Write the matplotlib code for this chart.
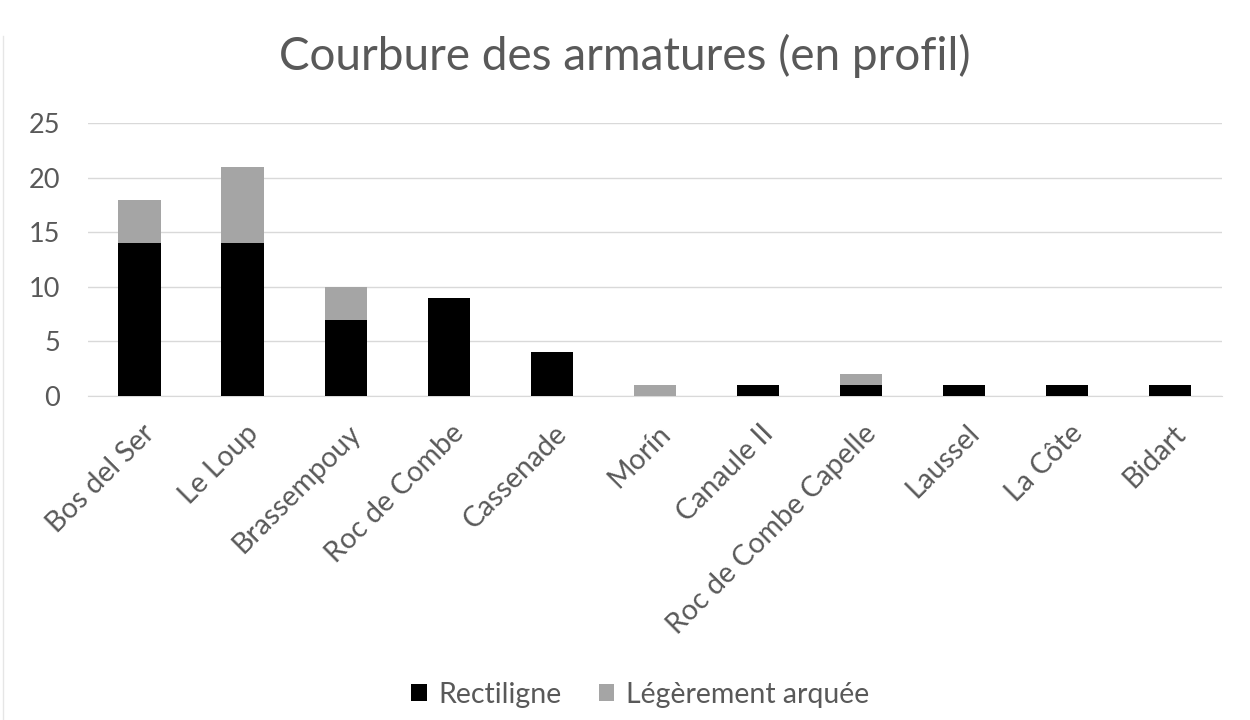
import matplotlib.pyplot as plt
import matplotlib.transforms as mtransforms
import numpy as np

plt.rcParams['font.family'] = ['Lato', 'DejaVu Sans']

sites = ['Bos del Ser', 'Le Loup', 'Brassempouy', 'Roc de Combe', 'Cassenade',
         'Morín', 'Canaule II', 'Roc de Combe Capelle', 'Laussel', 'La Côte', 'Bidart']
rectiligne = [14, 14, 7, 9, 4, 0, 1, 1, 1, 1, 1]
arquee = [4, 7, 3, 0, 0, 1, 0, 1, 0, 0, 0]
yticks = [0, 5, 10, 15, 20, 25]

txt = '#595959'
fig = plt.figure(figsize=(12.5, 7.2), dpi=100)
ax = fig.add_axes([0.0704, 0.45, 0.907, 0.379])

x = np.arange(len(sites))
ax.bar(x, rectiligne, width=0.41, color='#000000', label='Rectiligne', zorder=3)
ax.bar(x, arquee, width=0.41, bottom=rectiligne, color='#a5a5a5',
       label='Légèrement arquée', zorder=3)

ax.set_xlim(-0.5, len(sites) - 0.5)
ax.set_ylim(0, 25)
ax.set_yticks(yticks)
ax.grid(axis='y', color='#d9d9d9', linewidth=1, zorder=0)
for s in ['top', 'right', 'left']:
    ax.spines[s].set_visible(False)
ax.spines['bottom'].set_color('#d9d9d9')
ax.tick_params(axis='both', length=0, labelcolor=txt)
ax.tick_params(axis='y', pad=20, labelsize=19.5)
ax.tick_params(axis='x', pad=13, labelsize=20.5)
ax.set_xticks(x)
ax.set_xticklabels(sites, rotation=45, ha='right', rotation_mode='anchor')

# nudge rotated labels so their ends sit just right of the bars
shift = mtransforms.ScaledTranslation(2 / 100, -6 / 100, fig.dpi_scale_trans)
for lbl in ax.get_xticklabels():
    lbl.set_transform(lbl.get_transform() + shift)

fig.suptitle('Courbure des armatures (en profil)', fontsize=33, color=txt,
             y=0.922, va='center')

fig.legend(loc='center', bbox_to_anchor=(0.512, 0.035), ncol=2, frameon=False,
           fontsize=20.5, labelcolor=txt, handlelength=0.55, handleheight=0.55,
           handletextpad=0.4, columnspacing=1.3)

fig.add_artist(plt.Line2D([0.002, 0.002], [0.0, 0.95], color='#e6e6e6', linewidth=1))

fig.savefig('out.png', dpi=100)
